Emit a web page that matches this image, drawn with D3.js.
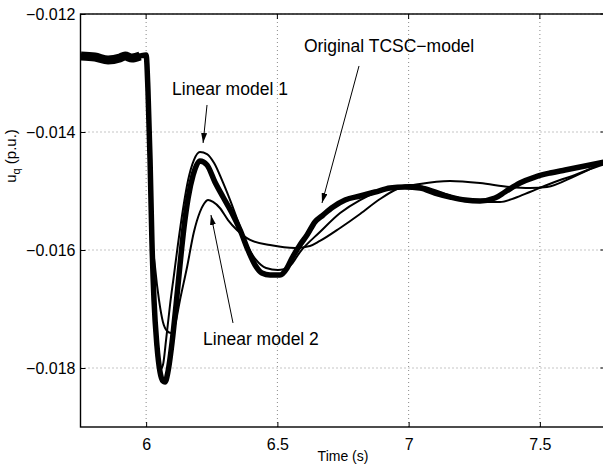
<!DOCTYPE html>
<html>
<head>
<meta charset="utf-8">
<script src="https://cdn.jsdelivr.net/npm/d3@7"></script>
<style>
  body { margin: 0; background: #fff; }
  svg { display: block; font-family: "Liberation Sans", Arial, Helvetica, sans-serif; }
</style>
</head>
<body>
<div id="chart"></div>
<script>
// time (s) and u_q (p.u.)
var origT = [5.752, 5.805, 5.855, 5.900, 5.920, 5.946, 5.977, 6.000, 6.007, 6.015, 6.022, 6.030, 6.041, 6.053, 6.064, 6.072, 6.083, 6.099, 6.114, 6.129, 6.144, 6.160, 6.179, 6.205, 6.232, 6.262, 6.293, 6.327, 6.358, 6.388, 6.415, 6.441, 6.472, 6.510, 6.537, 6.556, 6.586, 6.613, 6.643, 6.674, 6.712, 6.758, 6.815, 6.872, 6.929, 6.986, 7.043, 7.100, 7.158, 7.215, 7.272, 7.329, 7.367, 7.424, 7.481, 7.539, 7.596, 7.653, 7.748];
var origV = [-0.012712, -0.012729, -0.01278, -0.012746, -0.012712, -0.012746, -0.012712, -0.012695, -0.013288, -0.014475, -0.01583, -0.016847, -0.01761, -0.018068, -0.01822, -0.018237, -0.018068, -0.017559, -0.016932, -0.016254, -0.015627, -0.015119, -0.014729, -0.014492, -0.014559, -0.014847, -0.015102, -0.015373, -0.015661, -0.016, -0.016254, -0.01639, -0.016424, -0.016424, -0.016305, -0.016136, -0.015915, -0.015746, -0.015525, -0.015407, -0.015271, -0.015153, -0.015085, -0.015017, -0.014949, -0.014932, -0.014949, -0.015034, -0.015102, -0.015153, -0.015169, -0.015119, -0.015017, -0.014864, -0.014763, -0.014695, -0.014644, -0.014593, -0.014508];

var lin1T = [5.752, 5.977, 6.000, 6.007, 6.015, 6.022, 6.030, 6.038, 6.045, 6.053, 6.064, 6.076, 6.091, 6.106, 6.121, 6.140, 6.160, 6.182, 6.205, 6.232, 6.259, 6.289, 6.320, 6.358, 6.388, 6.419, 6.457, 6.502, 6.548, 6.586, 6.662, 6.739, 6.815, 6.891, 6.956, 7.005, 7.062, 7.120, 7.177, 7.234, 7.291, 7.348, 7.405, 7.462, 7.527, 7.577, 7.634, 7.691, 7.748];
var lin1V = [-0.012729, -0.012729, -0.012729, -0.013627, -0.014983, -0.016169, -0.017102, -0.017661, -0.017932, -0.018034, -0.017949, -0.017525, -0.016932, -0.016424, -0.015915, -0.015322, -0.014814, -0.014475, -0.014339, -0.014373, -0.014525, -0.014814, -0.015153, -0.01561, -0.015949, -0.016169, -0.016305, -0.016339, -0.016271, -0.016034, -0.015695, -0.015373, -0.015153, -0.015, -0.014932, -0.014898, -0.014932, -0.015017, -0.015102, -0.015153, -0.015186, -0.015186, -0.015119, -0.015017, -0.014898, -0.014814, -0.014729, -0.014627, -0.014542];

var lin2T = [5.752, 5.977, 6.000, 6.007, 6.015, 6.022, 6.034, 6.049, 6.064, 6.080, 6.095, 6.110, 6.129, 6.156, 6.182, 6.205, 6.220, 6.236, 6.255, 6.281, 6.312, 6.346, 6.396, 6.472, 6.567, 6.624, 6.662, 6.739, 6.815, 6.891, 6.956, 7.043, 7.158, 7.272, 7.386, 7.462, 7.527, 7.634, 7.748];
var lin2V = [-0.012729, -0.012729, -0.012729, -0.013458, -0.014644, -0.015661, -0.016288, -0.016847, -0.01722, -0.017373, -0.017407, -0.017271, -0.016847, -0.016288, -0.015695, -0.015356, -0.01522, -0.015153, -0.015186, -0.015288, -0.015492, -0.015661, -0.01583, -0.015915, -0.015966, -0.015932, -0.015847, -0.015627, -0.01539, -0.015136, -0.014966, -0.014881, -0.01483, -0.014864, -0.014932, -0.014949, -0.014932, -0.014746, -0.014508];

var xTicks = [6, 6.5, 7, 7.5];
var yTicks = [-0.012, -0.014, -0.016, -0.018];

var notes = [
  { text: "Original TCSC\u2212model", tx: 6.601, tv: -0.012644, from: [6.811, -0.012881], to: [6.670, -0.015203] },
  { text: "Linear model 1", tx: 6.099, tv: -0.013373, from: [6.232, -0.013542], to: [6.217, -0.014186] },
  { text: "Linear model 2", tx: 6.217, tv: -0.017610, from: [6.331, -0.017237], to: [6.247, -0.015407] }
];

var W = 603, H = 468;
var pLeft = 80.5, pRight = 605.5, pTop = 14, pBottom = 427;

var svg = d3.select("#chart").append("svg")
  .attr("width", W)
  .attr("height", H);

svg.append("rect").attr("width", W).attr("height", H).attr("fill", "#fff");

var x = d3.scaleLinear().domain([5.75, 7.75]).range([pLeft, pRight]);
var y = d3.scaleLinear().domain([-0.019, -0.012]).range([pBottom, pTop]);

svg.append("clipPath").attr("id", "plot")
  .append("rect")
  .attr("x", pLeft).attr("y", pTop)
  .attr("width", pRight - pLeft).attr("height", pBottom - pTop);

// dotted grid
svg.append("g").selectAll("line")
  .data(xTicks).enter().append("line")
  .attr("x1", function(d) { return x(d); })
  .attr("x2", function(d) { return x(d); })
  .attr("y1", pTop).attr("y2", pBottom)
  .attr("stroke", "#8a8a8a").attr("stroke-width", 1)
  .attr("stroke-dasharray", "1,3");

svg.append("g").selectAll("line")
  .data(yTicks).enter().append("line")
  .attr("y1", function(d) { return y(d); })
  .attr("y2", function(d) { return y(d); })
  .attr("x1", pLeft).attr("x2", pRight)
  .attr("stroke", "#8a8a8a").attr("stroke-width", 1)
  .attr("stroke-dasharray", "1,3");

function zip(ts, vs) {
  return ts.map(function(t, i) { return [t, vs[i]]; });
}

var line = d3.line()
  .x(function(d) { return x(d[0]); })
  .y(function(d) { return y(d[1]); })
  .curve(d3.curveMonotoneX);

var curves = svg.append("g").attr("clip-path", "url(#plot)");

var orig = zip(origT, origV);

curves.append("path")
  .datum(orig)
  .attr("fill", "none")
  .attr("stroke", "#000")
  .attr("stroke-width", 5.5)
  .attr("stroke-linejoin", "round")
  .attr("d", line);

// pre-fault part of the original signal is a wider noisy band
curves.append("path")
  .datum(orig.filter(function(d) { return d[0] <= 5.998; }))
  .attr("fill", "none")
  .attr("stroke", "#000")
  .attr("stroke-width", 9)
  .attr("d", line);

[zip(lin1T, lin1V), zip(lin2T, lin2V)].forEach(function(s) {
  curves.append("path")
    .datum(s)
    .attr("fill", "none")
    .attr("stroke", "#000")
    .attr("stroke-width", 2)
    .attr("stroke-linejoin", "round")
    .attr("d", line);
});

// axes box
svg.append("rect")
  .attr("x", pLeft).attr("y", pTop)
  .attr("width", pRight - pLeft).attr("height", pBottom - pTop)
  .attr("fill", "none").attr("stroke", "#000").attr("stroke-width", 1.4);

svg.append("g")
  .attr("transform", "translate(0," + pBottom + ")")
  .call(d3.axisBottom(x).tickValues(xTicks).tickSizeInner(-5).tickSizeOuter(0).tickPadding(8)
    .tickFormat(function(d) { return String(d); }))
  .call(function(g) {
    g.select(".domain").remove();
    g.selectAll(".tick line").attr("stroke", "#000");
    g.selectAll(".tick text").attr("font-size", 16).attr("font-family", null).attr("fill", "#000").attr("dy", "0.95em");
  });

svg.append("g")
  .attr("transform", "translate(" + pLeft + ",0)")
  .call(d3.axisLeft(y).tickValues(yTicks).tickSizeInner(-5).tickSizeOuter(0).tickPadding(5)
    .tickFormat(function(d) { return d3.format(".3f")(d).replace("-", "\u2212"); }))
  .call(function(g) {
    g.select(".domain").remove();
    g.selectAll(".tick line").attr("stroke", "#000");
    g.selectAll(".tick text").attr("font-size", 16).attr("font-family", null).attr("fill", "#000");
  });

// ticks on top and right sides
svg.append("g").selectAll("line")
  .data(xTicks).enter().append("line")
  .attr("x1", function(d) { return x(d); }).attr("x2", function(d) { return x(d); })
  .attr("y1", pTop).attr("y2", pTop + 5).attr("stroke", "#000");
svg.append("g").selectAll("line")
  .data(yTicks).enter().append("line")
  .attr("y1", function(d) { return y(d); }).attr("y2", function(d) { return y(d); })
  .attr("x1", pRight).attr("x2", pRight - 5).attr("stroke", "#000");

svg.append("text")
  .attr("x", (pLeft + pRight) / 2)
  .attr("y", 461)
  .attr("text-anchor", "middle")
  .attr("font-size", 14)
  .text("Time (s)");

var yl = svg.append("text")
  .attr("transform", "translate(16,156) rotate(-90)")
  .attr("text-anchor", "middle")
  .attr("font-size", 15);
yl.append("tspan").text("u");
yl.append("tspan").attr("font-size", 11).attr("dy", 4).text("q");
yl.append("tspan").attr("dy", -4).text(" (p.u.)");

// annotations
svg.append("defs").append("marker")
  .attr("id", "head")
  .attr("viewBox", "0 0 10 6")
  .attr("refX", 10).attr("refY", 3)
  .attr("markerWidth", 10).attr("markerHeight", 6)
  .attr("markerUnits", "userSpaceOnUse")
  .attr("orient", "auto")
  .append("path").attr("d", "M0,0L10,3L0,6Z").attr("fill", "#000");

notes.forEach(function(n) {
  svg.append("text")
    .attr("x", x(n.tx)).attr("y", y(n.tv))
    .attr("font-size", 17.5)
    .text(n.text);
  svg.append("line")
    .attr("x1", x(n.from[0])).attr("y1", y(n.from[1]))
    .attr("x2", x(n.to[0])).attr("y2", y(n.to[1]))
    .attr("stroke", "#000").attr("stroke-width", 1)
    .attr("marker-end", "url(#head)");
});
</script>
</body>
</html>
